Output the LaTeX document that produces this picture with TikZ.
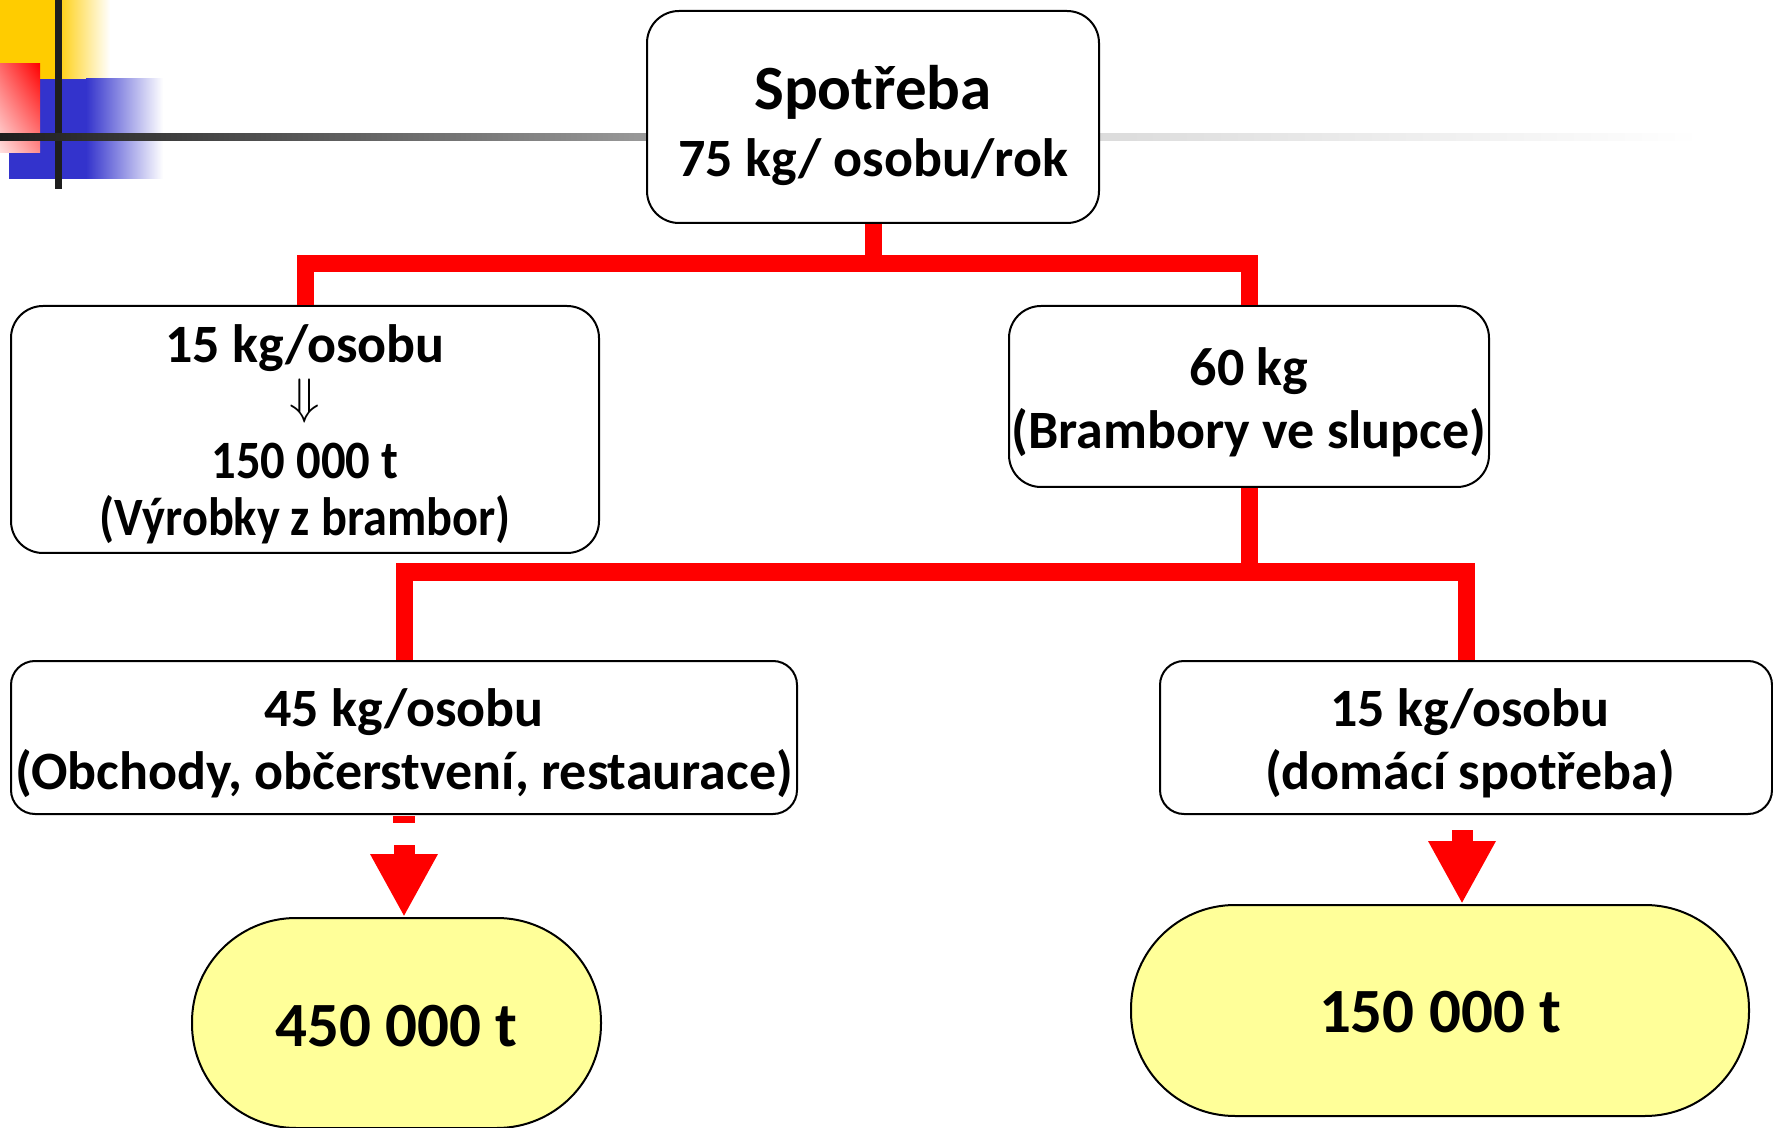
\documentclass[tikz,border=0pt]{standalone}
\usepackage{fontspec}
\setmainfont{Carlito}
\usetikzlibrary{arrows.meta,calc,shadings}
\definecolor{decoyellow}{HTML}{FFCC00}
\definecolor{decoblue}{HTML}{3333CC}
\definecolor{pillyellow}{HTML}{FFFF99}
\definecolor{lineDark}{HTML}{1E1E1E}
\begin{document}
\begin{tikzpicture}[x=0.5pt,y=-0.5pt,
  box/.style={draw=black, line width=1pt, fill=white, rounded corners=16pt, inner sep=0pt},
  boxtext/.style={align=center, font=\bfseries\fontsize{27}{31.5}\selectfont, inner sep=0pt},
  pill/.style={draw=black, line width=1pt, fill=pillyellow, rounded corners=52pt, inner sep=0pt},
  pilltext/.style={font=\bfseries\fontsize{31.5}{36}\selectfont, inner sep=0pt},
  redline/.style={draw=red, line width=8.5pt, line join=miter},
  blockarrow/.style={draw=red, line width=10.5pt, -{Triangle[length=31.5pt,width=31.5pt]}}]
\useasboundingbox (0,0) rectangle (1773,1128);
% decoration top left
\fill[decoyellow] (0,0) rectangle (55,79);
\shade[left color=decoyellow, right color=white] (55,0) rectangle (110,79);
\fill[decoblue] (9,79) rectangle (86,179);
\shade[left color=decoblue, right color=white] (86,79) rectangle (163,179);
\shade[upper right=red, upper left=red!60, lower right=red!45, lower left=red!12] (0,64) rectangle (40,153);
\fill[lineDark] (55,0) rectangle (62,189);
\shade[left color=lineDark, right color=black!40] (0,134) rectangle (647,141);
\shade[left color=black!14, right color=white] (1099,134) rectangle (1700,141);
% boxes
\node[box, minimum width=226pt, minimum height=106pt] (top) at (873,117) {};
\node[box, minimum width=294pt, minimum height=123.5pt] (b1) at (305,429.5) {};
\node[box, minimum width=240pt, minimum height=90.5pt] (b2) at (1249,396.5) {};
\node[box, rounded corners=12pt, minimum width=393pt, minimum height=76.5pt] (b3) at (404,737.5) {};
\node[box, rounded corners=12pt, minimum width=306pt, minimum height=76.5pt] (b4) at (1466,737.5) {};
\node[pill, minimum width=204.5pt, minimum height=105pt] (e1) at (396.5,1023) {};
\node[pill, minimum width=309pt, minimum height=105.5pt] (e2) at (1440,1010.5) {};
% texts
\node[boxtext] (topt) at ($(top.center)+(0,8)$)
  {{\fontsize{31.5}{36}\selectfont Spotřeba}\\[2pt] 75 kg/ osobu/rok};
\node[boxtext] (b1t) at ($(b1.center)+(0,5)$)
  {15 kg/osobu\\[-6pt] {\fontsize{30}{30}\selectfont$\Downarrow$}\\[1pt]
   \scalebox{0.9}[1]{150 000 t}\\[-3pt] \scalebox{0.895}[1]{(Výrobky z brambor)}};
\node[boxtext] (b2t) at ($(b2.center)+(0,6)$) {60 kg\\ (Brambory ve slupce)};
\node[boxtext] (b3t) at ($(b3.center)+(0,6)$) {45 kg/osobu\\ (Obchody, občerstvení, restaurace)};
\node[boxtext] (b4t) at ($(b4.center)+(4,6)$) {15 kg/osobu\\ (domácí spotřeba)};
\node[pilltext] (e1t) at ($(e1.center)+(0,3)$) {450 000 t};
\node[pilltext] (e2t) at ($(e2.center)+(0,2)$) {150 000 t};
% red connectors
\coordinate (j1) at (873,264);
\coordinate (j2) at (1249,572);
\draw[redline] (top.south) -- (j1) -| (b1.north);
\draw[redline] (j1) -| (b2.north);
\draw[redline] (b2.south) -- (j2) -| (b3.north);
\draw[redline] (j2) -| (b4.north);
\draw[draw=red, line width=11pt] ($(b3.south)+(0,1)$) -- ++(0,7);
\draw[blockarrow] ($(b3.south)+(0,30)$) -- (b3.south |- e1.north);
\draw[blockarrow] ($(b4.south)+(-4,15)$) -- ($(b4.south |- e2.north)+(-4,0)$);
\end{tikzpicture}
\end{document}
